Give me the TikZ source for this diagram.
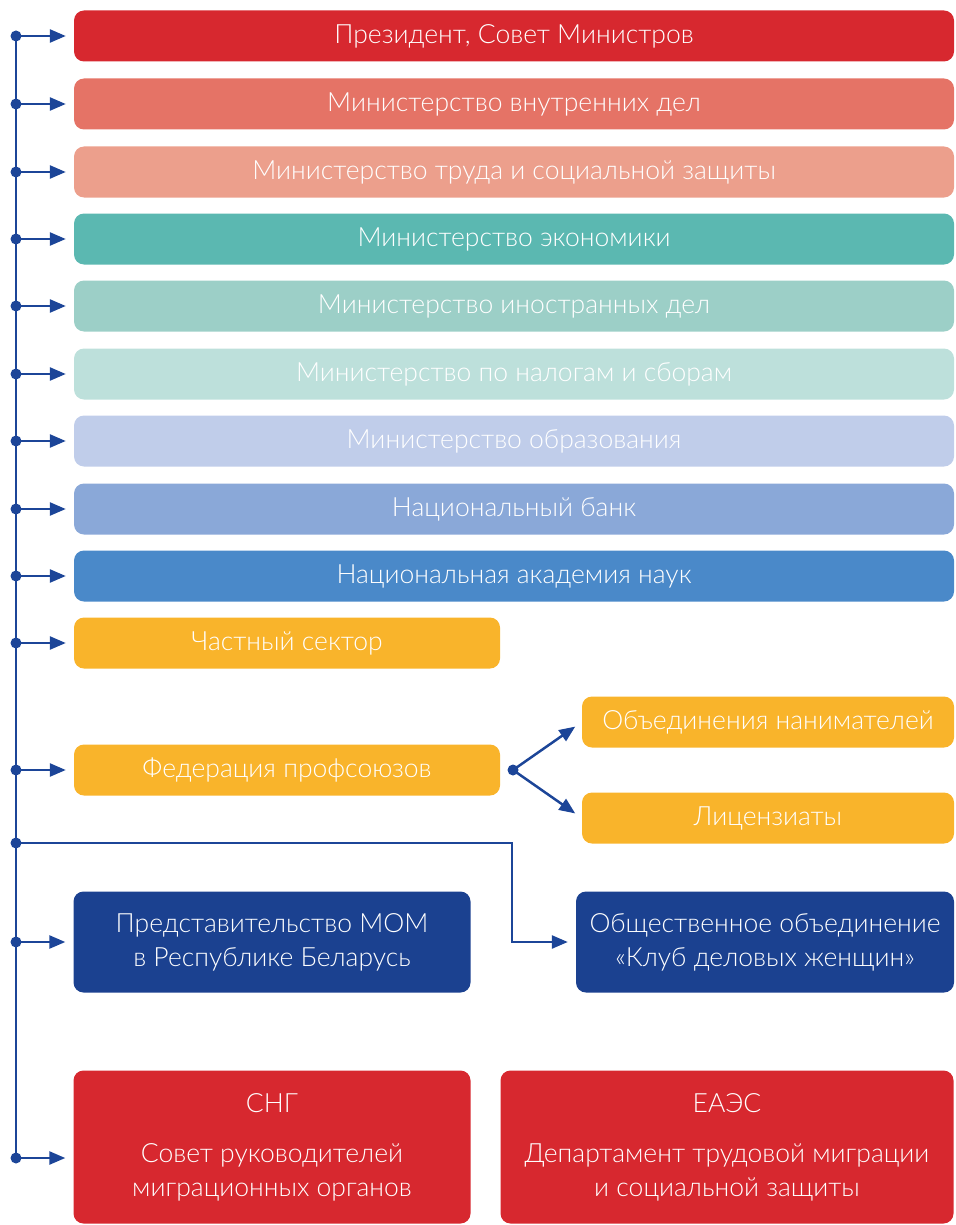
\documentclass[tikz,border=0pt]{standalone}
\usepackage{fontspec}
\setmainfont{Lato}[UprightFont={* Light}]
\usetikzlibrary{arrows.meta,positioning}
\definecolor{redA}{HTML}{D7282F}
\definecolor{redB}{HTML}{E57366}
\definecolor{redC}{HTML}{EC9F8C}
\definecolor{tealA}{HTML}{5BB8B1}
\definecolor{tealB}{HTML}{9CCFC7}
\definecolor{tealC}{HTML}{BDE0DB}
\definecolor{blueA}{HTML}{C0CDEA}
\definecolor{blueB}{HTML}{8AA8D8}
\definecolor{blueC}{HTML}{4A89C9}
\definecolor{amber}{HTML}{F9B42B}
\definecolor{navy}{HTML}{1B4190}
\definecolor{wire}{HTML}{1C4598}
\tikzset{
	box/.style={rectangle,rounded corners=10pt,text=white,align=center,inner sep=0pt,minimum height=51pt,font=\fontsize{26.5}{34}\selectfont},
	wide/.style={box,minimum width=880pt},
	half/.style={box,minimum width=426pt},
	tall/.style={box,minimum width=397pt,minimum height=101pt},
	link/.style={draw=wire,line width=2.5pt,-{Triangle[length=16pt,width=13pt]},shorten >=8pt},
	spine/.style={draw=wire,line width=2.5pt},
	dot/.style={circle,fill=wire,inner sep=0pt,minimum size=11pt}
}

\begin{document}
\begin{tikzpicture}[x=1pt,y=-1pt]
	\useasboundingbox (0,0) rectangle (955,1225);
	\node[wide,fill=redA] (pres) at (514,36) {Президент, Совет Министров};
	\node[wide,fill=redB] (mvd) at (514,104) {Министерство внутренних дел};
	\node[wide,fill=redC] (trud) at (514,172) {Министерство труда и социальной защиты};
	\node[wide,fill=tealA] (econ) at (514,239) {Министерство экономики};
	\node[wide,fill=tealB] (mid) at (514,306) {Министерство иностранных дел};
	\node[wide,fill=tealC] (nalog) at (514,374) {Министерство по налогам и сборам};
	\node[wide,fill=blueA] (obraz) at (514,441) {Министерство образования};
	\node[wide,fill=blueB] (bank) at (514,509) {Национальный банк};
	\node[wide,fill=blueC] (nan) at (514,576) {Национальная академия наук};
	\node[half,fill=amber] (chast) at (287,643) {Частный сектор};
	\node[half,fill=amber] (fed) at (287,770) {Федерация профсоюзов};
	\node[box,fill=amber,minimum width=372pt] (obed) at (768,722) {Объединения нанимателей};
	\node[box,fill=amber,minimum width=372pt] (lic) at (768,818) {Лицензиаты};
	\node[tall,fill=navy] (mom) at (272,942) {Представительство МОМ\\в Республике Беларусь};
	\node[box,fill=navy,minimum width=378pt,minimum height=101pt] (club) at (765,942) {Общественное объединение\\«Клуб деловых женщин»};
	\node[box,fill=redA,minimum width=397pt,minimum height=153pt] (sng) at (272,1147) {СНГ\\[16pt]Совет руководителей\\миграционных органов};
	\node[box,fill=redA,minimum width=453pt,minimum height=153pt] (eaes) at (727,1147) {ЕАЭС\\[16pt]Департамент трудовой миграции\\и социальной защиты};

	\foreach \n/\y in {pres/36,mvd/104,trud/172,econ/239,mid/306,nalog/374,obraz/441,bank/509,nan/576,chast/643,fed/770,mom/942,sng/1158}
		\node[dot] (d-\n) at (16,\y) {};
	\node[dot] (d-club) at (16,843) {};
	\node[dot] (fork) at (513,770) {};
	\coordinate (turn) at (512,843);

	\draw[spine] (d-pres.center) -- (d-sng.center);
	\foreach \n in {pres,mvd,trud,econ,mid,nalog,obraz,bank,nan,chast,fed,mom}
		\draw[link] (d-\n.center) -- (d-\n.center -| \n.west);
	\draw[link] (d-sng.center) -- (d-sng.center -| sng.west);
	\draw[link] (d-club.center) -- (turn) |- (club.west);
	\draw[link] (fork.center) -- (obed.west);
	\draw[link] (fork.center) -- (lic.west);
\end{tikzpicture}
\end{document}
